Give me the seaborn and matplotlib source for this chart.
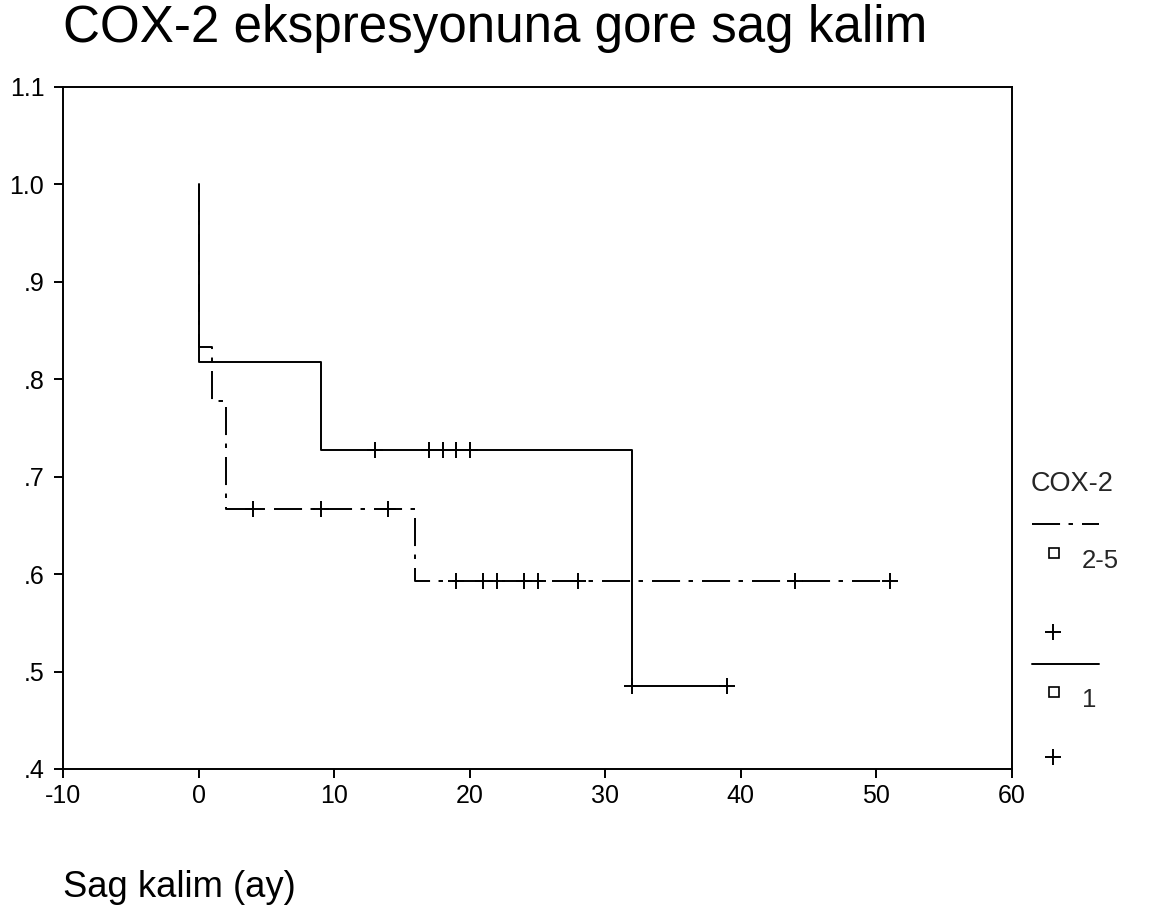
import pandas as pd
import matplotlib
import seaborn as sns
import matplotlib.pyplot as plt

# Step points of the two survival curves
steps_25_t = [0, 0, 1, 2, 16, 51]
steps_25_s = [1.0, 0.833, 0.778, 0.667, 0.593, 0.593]
steps_1_t = [0, 0, 9, 32, 39]
steps_1_s = [1.0, 0.818, 0.727, 0.485, 0.485]

# Censored observations (+ marks)
cens_25_t = [4, 9, 14, 19, 21, 22, 24, 25, 28, 44, 51]
cens_25_s = [0.667, 0.667, 0.667, 0.593, 0.593, 0.593, 0.593, 0.593, 0.593, 0.593, 0.593]
cens_1_t = [13, 17, 18, 19, 20, 32, 39]
cens_1_s = [0.727, 0.727, 0.727, 0.727, 0.727, 0.485, 0.485]

group_labels = ['2-5', '1']
x_ticks = [-10, 0, 10, 20, 30, 40, 50, 60]
y_ticks = [0.4, 0.5, 0.6, 0.7, 0.8, 0.9, 1.0, 1.1]
y_tick_labels = ['.4', '.5', '.6', '.7', '.8', '.9', '1.0', '1.1']

W, H = 1157, 914
DASH_DOT = (20.2, 6.1, 3.2, 6.5)
LW = 1.4
FONT = ['Liberation Sans', 'DejaVu Sans']

sns.set_theme(style='white')
plt.rcParams['font.family'] = FONT
plt.rcParams['lines.scale_dashes'] = False
plt.rcParams['axes.unicode_minus'] = False


def px(x, y):
    '''pixel (from top-left) -> figure fraction'''
    return x / W, 1 - y / H


steps_df = pd.concat([
    pd.DataFrame({'t': steps_25_t, 's': steps_25_s, 'group': group_labels[0]}),
    pd.DataFrame({'t': steps_1_t, 's': steps_1_s, 'group': group_labels[1]}),
])
cens_df = pd.DataFrame({'t': cens_25_t + cens_1_t, 's': cens_25_s + cens_1_s})

fig = plt.figure(figsize=(W / 100, H / 100), dpi=100)
l, b = px(63, 769)
r, t = px(1012, 87)
ax = fig.add_axes([l, b, r - l, t - b])

sns.lineplot(data=steps_df, x='t', y='s', style='group',
             dashes={group_labels[0]: DASH_DOT, group_labels[1]: ''},
             color='black', lw=LW, estimator=None, sort=False,
             drawstyle='steps-post', legend=False, ax=ax)

sns.scatterplot(data=cens_df, x='t', y='s', marker='+', s=120, color='black',
                linewidth=1.4, legend=False, zorder=3, ax=ax)

ax.set_xlim(-10, 60)
ax.set_ylim(0.4, 1.1)
ax.set_xticks(x_ticks)
ax.set_yticks(y_ticks)
ax.set_yticklabels(y_tick_labels)
ax.set_xlabel('')
ax.set_ylabel('')

for sp in ax.spines.values():
    sp.set_color('black')
    sp.set_linewidth(LW)
ax.tick_params(axis='both', which='major', direction='out', length=6.5, width=LW,
               color='black', labelsize=18, labelcolor='black',
               left=True, bottom=True, top=False, right=False)
ax.tick_params(axis='y', pad=7)
ax.tick_params(axis='x', pad=4)

# Title and axis label, placed like the original
fig.text(*px(63, 42), 'COX-2 ekspresyonuna gore sag kalim', fontsize=36.8,
         ha='left', va='baseline', color='black')
fig.text(*px(63, 897), 'Sag kalim (ay)', fontsize=26.2,
         ha='left', va='baseline', color='black')

# Legend, drawn by hand in pixel space
lax = fig.add_axes([0, 0, 1, 1], zorder=5)
lax.set_xlim(0, W)
lax.set_ylim(H, 0)
lax.axis('off')
lax.patch.set_alpha(0)

lax.text(1031, 491, 'COX-2', fontsize=19.5, ha='left', va='baseline')
lax.plot([1032, 1099], [524, 524], color='black', lw=LW, dashes=DASH_DOT)
lax.plot([1054], [553], marker='s', ms=6.5, mfc='white', mec='black', mew=1.2)
lax.text(1082, 568, group_labels[0], fontsize=18.5, ha='left', va='baseline')
lax.plot([1053], [632], marker='+', ms=11, mec='black', mew=1.4)

lax.plot([1032, 1099], [664, 664], color='black', lw=LW)
lax.plot([1054], [692], marker='s', ms=6.5, mfc='white', mec='black', mew=1.2)
lax.text(1082, 707, group_labels[1], fontsize=18.5, ha='left', va='baseline')
lax.plot([1053], [757], marker='+', ms=11, mec='black', mew=1.4)

fig.savefig('out.png', dpi=100, facecolor='white')
